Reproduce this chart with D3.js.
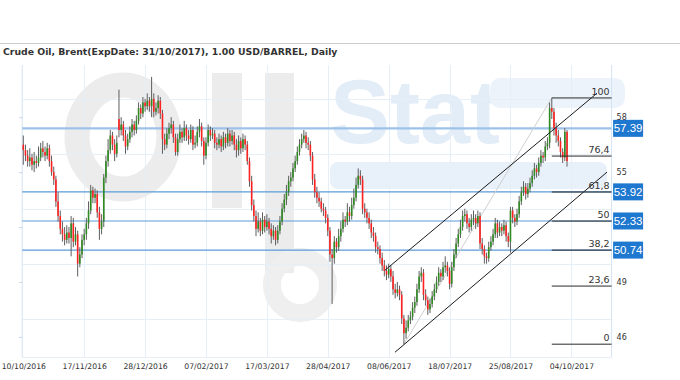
<!DOCTYPE html>
<html><head><meta charset="utf-8">
<script src="https://cdn.jsdelivr.net/npm/d3@7/dist/d3.min.js"></script>
<style>html,body{margin:0;padding:0;background:#fff;} svg{display:block;}</style>
</head><body>
<svg id="c" width="680" height="380"></svg>
<script>
const title = "Crude Oil, Brent(ExpDate: 31/10/2017), 1.00 USD/BARREL, Daily";
const tickLabels = ["10/10/2016","17/11/2016","28/12/2016","07/02/2017","17/03/2017","28/04/2017","08/06/2017","18/07/2017","25/08/2017","04/10/2017"];
const tickBars = [0,28,56,84,112,140,168,196,224,252];
const yTicks = [46,49,52,55,58];
const yTickLabels = [46,49,55,58];
const yGrid = [47,50,53,56,59];

const close = [
56.2,55.9,55.6,55.8,55.4,55.6,55.5,55.8,56.3,56.1,
55.9,56.3,55.6,55.0,54.6,53.4,52.6,51.9,51.6,51.3,
51.7,51.4,52.2,51.2,51.6,50.0,50.5,51.3,51.6,52.2,
52.9,54.0,53.6,53.8,52.8,51.9,52.3,54.7,55.6,56.2,
57.0,56.5,56.0,56.6,57.3,57.6,57.0,56.4,56.8,57.2,
57.6,57.3,57.8,58.5,58.2,58.8,58.6,58.9,58.6,59.0,
58.3,58.5,58.9,58.2,56.8,56.5,57.1,57.4,57.6,56.9,
56.1,56.8,57.2,56.9,57.4,57.0,56.8,57.3,56.5,56.6,
57.2,57.5,56.7,55.9,56.6,57.3,57.0,57.1,56.6,56.5,
56.8,56.4,56.9,56.6,57.1,56.7,57.0,56.5,56.2,56.7,
56.3,56.8,56.5,55.6,54.5,53.2,52.6,51.9,52.3,51.8,
52.4,52.0,52.3,51.9,51.5,51.8,51.3,51.8,52.3,53.0,
53.5,53.9,54.5,54.7,55.2,55.6,56.1,56.5,56.8,57.0,
56.6,56.5,55.9,54.6,53.9,53.6,53.4,53.0,52.9,52.5,
51.8,50.5,50.3,51.2,50.9,51.5,51.9,52.4,52.3,52.8,
52.6,53.2,53.6,54.3,54.8,54.6,53.0,52.8,52.5,52.2,
51.7,51.5,50.9,50.8,50.3,49.9,49.6,49.4,49.7,49.3,
48.6,48.4,48.6,48.3,47.0,46.2,46.5,46.9,47.1,47.6,
47.9,48.6,49.3,49.5,48.3,48.0,47.5,47.8,48.2,48.6,
49.0,49.5,49.3,49.8,49.9,49.6,48.9,49.8,50.5,51.1,
51.6,52.0,52.6,52.7,52.2,52.0,52.4,52.5,52.2,52.6,
51.1,50.8,50.4,50.3,50.9,51.2,51.6,52.2,51.7,52.0,
51.8,52.1,51.5,51.2,52.9,52.5,52.3,52.7,53.4,53.9,
54.2,53.8,54.1,54.4,54.8,55.2,55.0,55.5,55.9,55.8,
56.4,56.6,58.5,58.3,57.4,57.0,56.7,56.1,55.8,57.2,55.6];

const open = [
56.5,56.2,55.9,55.6,55.8,55.4,55.6,55.5,55.8,56.3,
56.1,55.9,56.3,55.6,55.0,54.6,53.4,52.6,51.9,51.6,
51.3,51.7,51.4,52.2,51.2,51.6,50.0,50.5,51.3,51.6,
52.2,52.9,54.0,53.6,53.8,52.8,51.9,52.3,54.7,55.6,
56.2,57.0,56.5,56.0,57.9,57.3,57.6,57.0,56.4,56.8,
57.2,57.6,57.3,57.8,58.5,58.2,58.8,58.6,58.9,58.6,
59.0,58.3,58.5,58.9,58.2,56.8,56.5,57.1,57.4,57.6,
56.9,56.1,56.8,57.2,56.9,57.4,57.0,56.8,57.3,56.5,
56.6,57.2,57.5,56.7,55.9,56.6,57.3,57.0,57.1,56.6,
56.5,56.8,56.4,56.9,56.6,57.1,56.7,57.0,56.5,56.2,
56.7,56.3,56.8,56.5,55.6,54.5,53.2,52.6,51.9,52.3,
51.8,52.4,52.0,52.3,51.9,51.5,51.8,51.3,51.8,52.3,
53.0,53.5,53.9,54.5,54.7,55.2,55.6,56.1,56.5,56.8,
57.0,56.6,56.5,55.9,54.6,53.9,53.6,53.4,53.0,52.9,
52.5,51.8,50.5,50.3,51.2,50.9,51.5,51.9,52.4,52.3,
52.8,52.6,53.2,53.6,54.3,54.8,54.6,53.0,52.8,52.5,
52.2,51.7,51.5,50.9,50.8,50.3,49.9,49.6,49.4,49.7,
49.3,48.6,48.4,48.6,48.3,47.0,46.2,46.5,46.9,47.1,
47.6,47.9,48.6,49.3,49.5,48.3,48.0,47.5,47.8,48.2,
48.6,49.0,49.5,49.3,49.8,49.9,49.6,48.9,49.8,50.5,
51.1,51.6,52.0,52.6,52.7,52.2,52.0,52.4,52.5,52.2,
52.6,51.1,50.8,50.4,50.3,50.9,51.2,51.6,52.2,51.7,
52.0,51.8,52.1,51.5,51.2,52.9,52.5,52.3,52.7,53.4,
53.9,54.2,53.8,54.1,54.4,54.8,55.2,55.0,55.5,55.9,
55.8,56.4,56.6,58.5,58.3,57.4,57.0,56.7,56.1,55.8,57.2];

const high = [
57.0,56.5,56.2,56.3,56.0,56.1,55.9,56.4,56.6,56.7,
56.4,56.6,56.5,55.9,55.3,54.8,53.9,52.9,52.3,52.0,
52.1,52.0,52.6,52.5,52.0,51.8,50.9,51.6,51.9,52.5,
53.4,54.3,54.2,54.1,54.0,53.1,52.7,54.9,55.9,56.8,
57.3,57.2,56.8,57.0,59.5,58.0,57.8,57.3,57.1,57.5,
57.9,57.8,58.1,58.8,58.7,59.1,59.0,59.3,59.1,60.2,
59.3,58.8,59.2,59.1,58.4,57.1,57.4,57.7,58.0,57.8,
57.1,57.1,57.6,57.4,57.8,57.6,57.3,57.6,57.5,57.0,
57.5,57.9,57.7,56.9,56.9,57.6,57.5,57.4,57.3,56.9,
57.1,57.0,57.2,57.1,57.4,57.3,57.3,57.2,56.8,57.0,
56.9,57.1,57.0,56.7,55.8,54.8,53.5,52.9,52.8,52.5,
52.8,52.6,52.7,52.5,52.2,52.1,52.0,52.1,52.6,53.3,
53.8,54.3,54.8,55.0,55.5,55.9,56.4,56.8,57.1,57.3,
57.2,56.9,56.7,56.1,54.9,54.2,53.9,53.6,53.3,53.1,
52.7,52.0,50.8,51.5,51.4,51.9,52.3,52.8,52.6,53.3,
53.1,53.6,54.1,54.7,55.2,55.1,54.8,53.3,53.0,52.8,
52.4,52.0,51.7,51.2,51.0,50.6,50.2,49.9,50.0,49.9,
49.6,48.9,49.0,48.8,48.5,47.2,46.9,47.2,47.4,47.9,
48.2,48.9,49.6,49.8,49.7,48.6,48.2,48.1,48.5,48.9,
49.3,49.8,49.7,50.1,50.4,50.1,49.8,50.1,50.8,51.4,
51.9,52.4,52.9,53.0,52.9,52.5,52.7,52.9,52.7,52.9,
52.8,51.4,51.0,50.6,51.2,51.5,51.9,52.5,52.4,52.3,
52.2,52.4,52.3,51.7,53.1,53.1,52.7,53.0,53.7,54.2,
54.5,54.4,54.4,54.7,55.1,55.5,55.4,55.8,56.2,56.1,
56.7,56.9,58.8,59.05,58.5,57.7,57.3,56.9,56.3,57.4,57.3];

const low = [
55.4,55.6,55.3,55.3,55.1,55.0,55.2,55.3,55.6,55.8,
55.6,55.7,55.3,54.8,54.3,53.1,52.3,51.6,51.2,51.0,
51.1,51.1,50.4,50.9,51.0,49.3,49.8,50.3,51.0,51.3,
51.9,52.7,53.3,53.3,52.5,51.3,51.6,52.0,54.4,55.3,
56.0,56.2,55.6,55.8,56.9,57.0,56.7,56.0,56.2,56.6,
56.9,57.0,57.1,57.6,57.9,58.0,58.3,58.4,58.3,58.0,
58.0,58.1,58.2,57.9,56.0,56.2,56.3,56.8,57.1,56.6,
55.9,55.9,56.6,56.6,56.7,56.7,56.5,56.6,56.2,56.3,
56.4,56.9,56.4,55.4,55.7,56.4,56.7,56.8,56.3,56.2,
56.3,56.1,56.2,56.3,56.4,56.4,56.5,56.2,55.8,55.9,
56.0,56.1,56.2,55.4,54.2,52.9,52.3,51.5,51.7,51.5,
51.6,51.7,51.8,51.6,51.1,51.3,51.0,51.1,51.6,52.1,
52.8,53.2,53.7,54.2,54.5,55.0,55.4,55.9,56.3,56.6,
56.3,56.2,55.6,54.3,53.6,53.3,53.1,52.8,52.6,52.2,
51.5,50.1,47.8,50.0,50.6,50.7,51.2,51.7,52.0,52.1,
52.3,52.4,53.0,53.4,54.1,54.3,52.7,52.5,52.2,51.9,
51.4,51.2,50.6,50.5,50.0,49.6,49.3,49.1,49.2,49.0,
48.3,48.1,48.2,48.0,46.7,45.6,45.9,46.3,46.7,46.9,
47.3,47.7,48.4,49.0,48.0,47.7,47.2,47.3,47.6,48.0,
48.4,48.8,49.0,49.1,49.5,49.3,48.6,48.7,49.6,50.3,
50.9,51.4,51.8,52.3,51.9,51.7,51.8,52.1,51.9,52.0,
50.8,50.5,50.0,50.0,50.1,50.7,51.0,51.4,51.4,51.5,
51.5,51.6,51.2,50.9,50.6,52.2,52.0,52.1,52.5,53.2,
53.7,53.5,53.6,53.9,54.2,54.6,54.7,54.8,55.3,55.5,
55.6,56.2,56.3,57.9,57.0,56.6,56.4,55.8,55.5,55.6,55.3];

const levelValues = [57.39, 53.92, 52.33, 50.74];
const fibLowBar = 175, fibLowValue = 45.6;
const fibHighBar = 243, fibHighValue = 59.05;
const fibRatios = [0, 23.6, 38.2, 50, 61.8, 76.4, 100];
const fibLabels = ["0", "23,6", "38,2", "50", "61,8", "76,4", "100"];
const channelUpper = [[166.3, 49.64], [263.8, 59.31]];
const channelLower = [[170.9, 45.16], [268.4, 55.0]];

const svg = d3.select("#c");
const L = 22.2, R = 611.6, T = 65, B = 357;
const x = d3.scaleLinear().domain([-0.5, 270.5]).range([L, R]);
const y = d3.scaleLinear().domain([44.9, 60.85]).range([B, T]);
const FONT = "DejaVu Sans, Verdana, sans-serif";

// watermark
const wm = svg.append("g");
wm.append("ellipse").attr("cx",123).attr("cy",137).attr("rx",46).attr("ry",52)
  .attr("fill","none").attr("stroke","#ececec").attr("stroke-width",25);
wm.append("rect").attr("x",212).attr("y",73).attr("width",30).attr("height",135).attr("fill","#ececec");
wm.append("rect").attr("x",265).attr("y",73).attr("width",29).attr("height",200).attr("fill","#ececec");
wm.append("ellipse").attr("cx",300).attr("cy",285).attr("rx",28).attr("ry",28)
  .attr("fill","none").attr("stroke","#efefef").attr("stroke-width",18);
wm.append("text").attr("x",330).attr("y",143).attr("font-family","Liberation Sans, Arial, sans-serif")
  .attr("font-weight","bold").attr("font-size",90).attr("fill","#e3edf8").text("Stat");
wm.append("rect").attr("x",330).attr("y",162).attr("width",277).attr("height",27).attr("rx",8).attr("fill","#e8f0f9");
wm.append("rect").attr("x",490).attr("y",78).attr("width",135).attr("height",30).attr("rx",10).attr("fill","#ecf3fa");

// top line + title
svg.append("line").attr("x1",0).attr("x2",680).attr("y1",43.5).attr("y2",43.5).attr("stroke","#cccccc");
svg.append("text").attr("x",3).attr("y",55).attr("font-family",FONT)
  .attr("font-size",9.3).attr("font-weight","bold").attr("fill","#333").text(title);

// grid
const grid = svg.append("g").attr("stroke","#e6eff8").attr("stroke-width",1);
grid.selectAll("line.v").data(tickBars.slice(1)).join("line")
  .attr("x1",d=>Math.round(x(d))+0.5).attr("x2",d=>Math.round(x(d))+0.5).attr("y1",T).attr("y2",B);
grid.selectAll("line.h").data(yGrid).join("line").attr("class","h")
  .attr("x1",L).attr("x2",R).attr("y1",d=>Math.round(y(d))+0.5).attr("y2",d=>Math.round(y(d))+0.5);

// axes frame
svg.append("line").attr("x1",L).attr("x2",L).attr("y1",T).attr("y2",B).attr("stroke","#d3e3f3");
svg.append("line").attr("x1",R).attr("x2",R).attr("y1",T).attr("y2",B).attr("stroke","#d3e3f3");
svg.append("line").attr("x1",L).attr("x2",R).attr("y1",B+0.5).attr("y2",B+0.5).attr("stroke","#e6eff8");

const yAxisL = d3.axisLeft(y).tickValues(yTicks).tickSize(3).tickFormat("");
svg.append("g").attr("transform",`translate(${L},0)`).call(yAxisL)
  .call(g=>g.select(".domain").remove()).call(g=>g.selectAll("line").attr("stroke","#c5d6e8"));

const yAxisR = d3.axisRight(y).tickValues(yTickLabels).tickSize(0).tickPadding(5).tickFormat(d3.format("d"));
svg.append("g").attr("transform",`translate(${R},0)`).call(yAxisR)
  .call(g=>g.select(".domain").remove())
  .call(g=>g.selectAll("text").attr("font-family",FONT).attr("font-size",8).attr("fill","#333"));

const xAxis = d3.axisBottom(x).tickValues(tickBars).tickSize(0).tickPadding(7)
  .tickFormat((d,i)=>tickLabels[i]);
svg.append("g").attr("transform",`translate(0,${B})`).call(xAxis)
  .call(g=>g.select(".domain").remove())
  .call(g=>g.selectAll("text").attr("font-family",FONT).attr("font-size",7.7).attr("fill","#333"));

// horizontal levels
svg.selectAll("line.lvl").data(levelValues).join("line").attr("class","lvl")
  .attr("x1",L).attr("x2",R).attr("y1",d=>y(d)).attr("y2",d=>y(d))
  .attr("stroke",(d,i)=>i===0?"#9cc2ea":"#5b9bd8").attr("stroke-width",(d,i)=>i===0?2.2:1.2);

// fib trend line
svg.append("line").attr("x1",x(fibLowBar)).attr("y1",y(fibLowValue)).attr("x2",x(fibHighBar)).attr("y2",y(fibHighValue))
  .attr("stroke","#cfcfcf").attr("stroke-width",1);

// candles
const idx = d3.range(close.length);
const cg = svg.append("g");
cg.selectAll("line.w").data(idx).join("line").attr("class","w")
  .attr("x1",i=>x(i)).attr("x2",i=>x(i)).attr("y1",i=>y(high[i])).attr("y2",i=>y(low[i]))
  .attr("stroke","#5e5e5e").attr("stroke-width",1);
cg.selectAll("rect.b").data(idx).join("rect").attr("class","b")
  .attr("x",i=>x(i)-0.8).attr("width",1.6)
  .attr("y",i=>y(Math.max(open[i],close[i])))
  .attr("height",i=>Math.max(0.8, Math.abs(y(open[i])-y(close[i]))))
  .attr("fill",i=>close[i]>=open[i]?"#2f8a22":"#ff2222");

// channel
const ln = d3.line().x(d=>x(d[0])).y(d=>y(d[1]));
[channelUpper, channelLower].forEach(c=>{
  svg.append("path").attr("d",ln(c)).attr("fill","none").attr("stroke","#1a1a1a").attr("stroke-width",1);
});

// fib levels
const fibVal = r => fibLowValue + (fibHighValue - fibLowValue) * r / 100;
svg.selectAll("line.fib").data(fibRatios).join("line").attr("class","fib")
  .attr("x1",x(fibHighBar)).attr("x2",R).attr("y1",d=>y(fibVal(d))).attr("y2",d=>y(fibVal(d)))
  .attr("stroke","#2a2a2a").attr("stroke-width",1);
svg.selectAll("text.fib").data(fibRatios).join("text").attr("class","fib")
  .attr("x",R-2).attr("y",d=>y(fibVal(d))-3).attr("text-anchor","end")
  .attr("font-family",FONT).attr("font-size",9.5).attr("fill","#333")
  .text((d,i)=>fibLabels[i]);

// price boxes
const pb = svg.selectAll("g.pb").data(levelValues).join("g").attr("class","pb")
  .attr("transform",d=>`translate(${R+1.5},${y(d)})`);
pb.append("rect").attr("x",0).attr("y",-8.5).attr("width",30).attr("height",17).attr("fill","#1f78cf");
pb.append("text").attr("x",15).attr("y",4).attr("text-anchor","middle")
  .attr("font-family","Liberation Sans, Arial, sans-serif").attr("font-size",11.5).attr("fill","#fff")
  .text(d=>d.toFixed(2));
</script>
</body></html>
